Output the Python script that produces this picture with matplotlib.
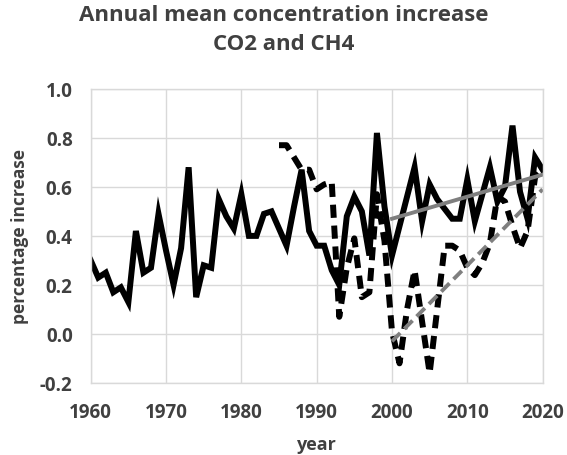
import matplotlib.pyplot as plt

# annual mean concentration increase, percent per year
co2_years = list(range(1960, 2021))
co2_increase = [
    0.30, 0.23, 0.25, 0.17, 0.19, 0.13, 0.42, 0.25, 0.27, 0.49,
    0.34, 0.20, 0.35, 0.68, 0.15, 0.28, 0.27, 0.55, 0.48, 0.43,
    0.57, 0.40, 0.40, 0.49, 0.50, 0.43, 0.36, 0.52, 0.67, 0.42,
    0.36, 0.36, 0.26, 0.20, 0.48, 0.56, 0.50, 0.32, 0.82, 0.52,
    0.32, 0.44, 0.56, 0.68, 0.46, 0.61, 0.55, 0.51, 0.47, 0.47,
    0.63, 0.46, 0.57, 0.68, 0.54, 0.60, 0.85, 0.58, 0.47, 0.72,
    0.67,
]

ch4_years = list(range(1985, 2021))
ch4_increase = [
    0.77, 0.77, 0.72, 0.67, 0.67, 0.59, 0.61, 0.62, 0.07, 0.27,
    0.39, 0.15, 0.17, 0.57, 0.38, 0.01, -0.12, 0.10, 0.26, 0.05,
    -0.16, 0.10, 0.36, 0.36, 0.34, 0.27, 0.24, 0.29, 0.37, 0.56,
    0.54, 0.44, 0.35, 0.42, 0.64, 0.67,
]

# linear trends 2000-2020
trend_years = [2000, 2020]
co2_trend = [0.47, 0.65]
ch4_trend = [-0.03, 0.59]

text_color = '#404040'
plt.rcParams['font.family'] = ['Open Sans', 'DejaVu Sans']
plt.rcParams['font.weight'] = 'bold'

fig = plt.figure(figsize=(5.67, 4.56), dpi=100)
ax = fig.add_axes([0.16, 0.158, 0.797, 0.645])

ax.plot(co2_years, co2_increase, color='black', lw=4.3, solid_joinstyle='miter')
ax.plot(ch4_years, ch4_increase, color='black', lw=4.3, linestyle=(0, (2.2, 1.3)))
ax.plot(trend_years, co2_trend, color='#7f7f7f', lw=2.8)
ax.plot(trend_years, ch4_trend, color='#7f7f7f', lw=2.8, linestyle=(0, (3, 1.5)))

ax.set_xlim(1960, 2020)
ax.set_ylim(-0.2, 1.0)
ax.set_xticks(range(1960, 2021, 10))
ax.set_yticks([-0.2, 0.0, 0.2, 0.4, 0.6, 0.8, 1.0])
ax.set_yticklabels(['-0.2', '0.0', '0.2', '0.4', '0.6', '0.8', '1.0'])
ax.grid(color='#d9d9d9', lw=1)
ax.set_axisbelow(True)
for s in ax.spines.values():
    s.set_color('#d9d9d9')
    s.set_linewidth(1)
ax.tick_params(length=0, labelsize=13.5, colors=text_color)
ax.tick_params(axis='x', pad=14)
ax.tick_params(axis='y', pad=13)
for lbl in ax.get_xticklabels() + ax.get_yticklabels():
    lbl.set_fontweight('bold')

ax.set_xlabel('year', fontsize=13, color=text_color, labelpad=9, fontweight='bold')
ax.set_ylabel('percentage increase', fontsize=12.5, color=text_color, labelpad=8,
              fontweight='bold')
fig.suptitle('Annual mean concentration increase\nCO2 and CH4', x=0.5, y=0.99,
             fontsize=16, color=text_color, fontweight='bold', linespacing=1.5)

plt.savefig('out.png', dpi=100)
